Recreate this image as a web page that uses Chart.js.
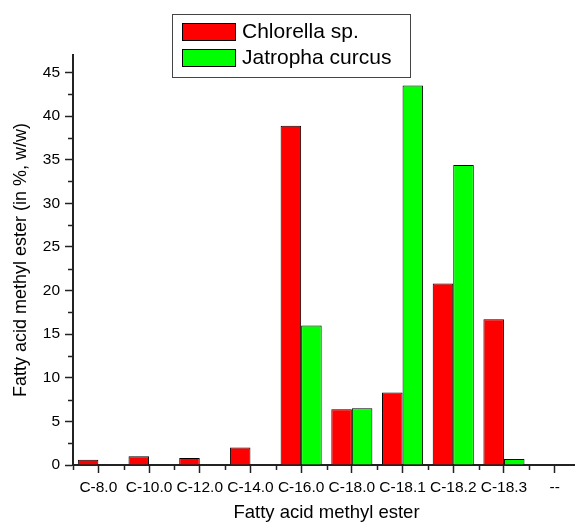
<!DOCTYPE html>
<html>
<head>
<meta charset="utf-8">
<title>Fatty acid methyl ester composition</title>
<script src="https://cdn.jsdelivr.net/npm/chart.js@4/dist/chart.umd.min.js"></script>
<style>
  html, body { margin: 0; padding: 0; background: #fff; overflow: hidden; }
  canvas { display: block; }
</style>
</head>
<body>
<canvas id="fame" width="580" height="524"></canvas>
<script>
// Fatty acid methyl ester profile (% w/w)
const categories = ['C-8.0', 'C-10.0', 'C-12.0', 'C-14.0', 'C-16.0', 'C-18.0', 'C-18.1', 'C-18.2', 'C-18.3', '--'];
const chlorella = [0.6, 1.0, 0.8, 2.0, 38.9, 6.4, 8.3, 20.8, 16.7, null];
const jatropha  = [null, null, null, null, 16.0, 6.5, 43.5, 34.4, 0.7, null];
const seriesNames = ['Chlorella sp.', 'Jatropha curcus'];
const yTicks = [0, 5, 10, 15, 20, 25, 30, 35, 40, 45];

const FONT = "'Liberation Sans', Arial, Helvetica, sans-serif";
const AXIS = '#222';

// Short minor ticks: halfway between the y labels, and at the category boundaries on x
const minorTicks = {
  id: 'minorTicks',
  afterDraw(chart) {
    const ctx = chart.ctx;
    const x = chart.scales.x, y = chart.scales.y;
    const area = chart.chartArea;
    ctx.save();
    ctx.strokeStyle = AXIS;
    ctx.lineWidth = 1.5;
    ctx.beginPath();
    for (let i = 0; i < yTicks.length; i++) {
      const v = yTicks[i] + 2.5;
      if (v > y.max) break;
      const py = Math.round(y.getPixelForValue(v)) + 0.5;
      ctx.moveTo(area.left - 5, py);
      ctx.lineTo(area.left, py);
    }
    const half = (x.getPixelForValue(1) - x.getPixelForValue(0)) / 2;
    for (let i = 0; i <= categories.length; i++) {
      const px = Math.round(x.getPixelForValue(i) - half) + 0.5;
      ctx.moveTo(px, area.bottom);
      ctx.lineTo(px, area.bottom + 5);
    }
    ctx.stroke();
    ctx.restore();
  }
};

// Framed legend with a swatch and label per dataset
const boxLegend = {
  id: 'boxLegend',
  afterDraw(chart, args, opts) {
    const ctx = chart.ctx;
    ctx.save();
    ctx.fillStyle = '#fff';
    ctx.fillRect(opts.x, opts.y, opts.w, opts.h);
    ctx.strokeStyle = '#444';
    ctx.lineWidth = 1;
    ctx.strokeRect(opts.x + 0.5, opts.y + 0.5, opts.w, opts.h);
    ctx.font = opts.fontSize + 'px ' + FONT;
    ctx.textBaseline = 'middle';
    ctx.textAlign = 'left';
    chart.data.datasets.forEach((ds, i) => {
      const top = opts.y + opts.rowTop + i * opts.rowStep;
      ctx.fillStyle = ds.backgroundColor;
      ctx.fillRect(opts.x + opts.swX, top, opts.swW, opts.swH);
      ctx.strokeStyle = '#000';
      ctx.strokeRect(opts.x + opts.swX + 0.5, top + 0.5, opts.swW, opts.swH);
      ctx.fillStyle = '#000';
      ctx.fillText(ds.label, opts.x + opts.swX + opts.swW + 7, top + opts.swH / 2 + 1);
    });
    ctx.restore();
  }
};

new Chart(document.getElementById('fame'), {
  type: 'bar',
  data: {
    labels: categories,
    datasets: [
      { label: seriesNames[0], data: chlorella, backgroundColor: '#ff0000', borderColor: '#000', borderWidth: 1 },
      { label: seriesNames[1], data: jatropha, backgroundColor: '#00ff00', borderColor: '#000', borderWidth: 1 }
    ]
  },
  options: {
    responsive: false,
    animation: false,
    devicePixelRatio: 1,
    layout: { padding: { top: 55, right: 0, left: 0, bottom: 0 } },
    datasets: { bar: { categoryPercentage: 0.81, barPercentage: 1.0 } },
    plugins: {
      legend: { display: false },
      tooltip: { enabled: false },
      boxLegend: { x: 172, y: 14, w: 238, h: 63, swX: 10, swW: 53, swH: 17, rowTop: 9, rowStep: 26, fontSize: 21 }
    },
    scales: {
      x: {
        type: 'category',
        offset: true,
        afterFit(s) { s.height = 59; },
        border: { display: true, color: AXIS, width: 2 },
        grid: { display: true, drawOnChartArea: false, offset: false, drawTicks: true, tickLength: 8, tickWidth: 1.5, tickColor: AXIS },
        ticks: { color: '#000', font: { family: FONT, size: 15.5 }, padding: 5, maxRotation: 0, autoSkip: false },
        title: { display: true, text: 'Fatty acid methyl ester', color: '#000', font: { family: FONT, size: 18.5 }, padding: { top: 0, bottom: 0 } }
      },
      y: {
        min: 0,
        max: 47,
        afterFit(s) { s.width = 73; },
        border: { display: true, color: AXIS, width: 2 },
        grid: { display: true, drawOnChartArea: false, drawTicks: true, tickLength: 8, tickWidth: 1.5, tickColor: AXIS },
        afterBuildTicks(s) { s.ticks = yTicks.map(v => ({ value: v })); },
        ticks: { color: '#000', font: { family: FONT, size: 15.5 }, padding: 5 },
        title: { display: true, text: 'Fatty acid methyl ester (in %, w/w)', color: '#000', font: { family: FONT, size: 18 }, padding: { top: 10, bottom: 0 } }
      }
    }
  },
  plugins: [minorTicks, boxLegend]
});
</script>
</body>
</html>
